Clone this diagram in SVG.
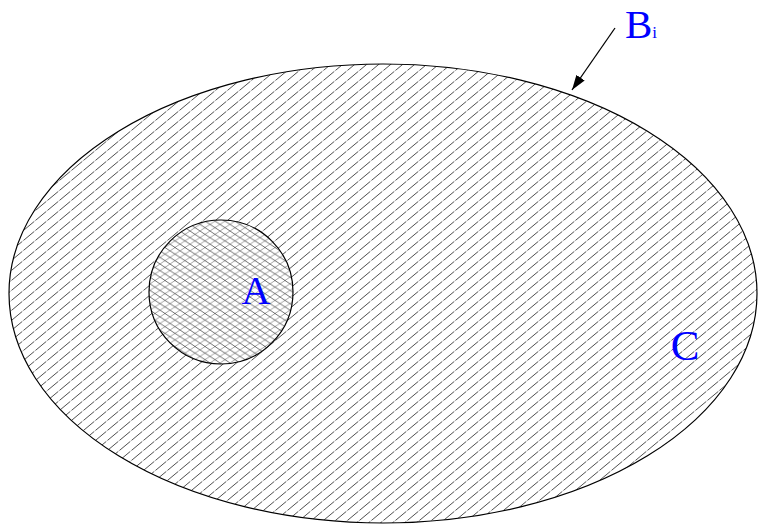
<svg xmlns="http://www.w3.org/2000/svg" width="758" height="527" viewBox="0 0 758 527">
<style>
.lbl{font-family:"Liberation Serif","Times New Roman",serif;fill:#0000ff}
.outline{stroke:#000;stroke-width:1.2}
</style>
<defs>
<pattern id="hatch" patternUnits="userSpaceOnUse" width="12" height="10">
<line x1="-1.2" y1="11" x2="13.2" y2="-1" stroke="#3a3a3a" stroke-width="0.9" stroke-dasharray="15 1.5"/>
<line x1="-1.2" y1="1" x2="1.2" y2="-1" stroke="#3a3a3a" stroke-width="0.9"/>
<line x1="10.8" y1="11" x2="13.2" y2="9" stroke="#3a3a3a" stroke-width="0.9"/>
</pattern>
<pattern id="cross" patternUnits="userSpaceOnUse" width="10" height="6.6">
<rect width="10" height="6.6" fill="#fff"/>
<line x1="0" y1="6.6" x2="10" y2="0" stroke="#8a8a8a" stroke-width="0.8"/>
<line x1="0" y1="0" x2="10" y2="6.6" stroke="#111" stroke-width="0.6"/>
</pattern>
<marker id="arr" markerWidth="15" markerHeight="10" refX="15" refY="5" orient="auto" markerUnits="userSpaceOnUse">
<path d="M0,0 L15,5 L0,10 Z" fill="#000"/>
</marker>
</defs>
<g id="B">
<ellipse cx="383" cy="293.5" rx="374" ry="229.5" class="outline" style="fill:url(#hatch)"/>
</g>
<g id="A">
<circle cx="221" cy="292" r="72" class="outline" style="fill:url(#cross)"/>
<text x="256" y="304" class="lbl" font-size="40" text-anchor="middle">A</text>
</g>
<g id="C">
<text x="685" y="360" class="lbl" font-size="43" text-anchor="middle">C</text>
</g>
<g id="connectors">
<line x1="615" y1="28" x2="572" y2="90" stroke="#000" stroke-width="1.3" marker-end="url(#arr)"/>
</g>
<g id="Bi">
<text x="625" y="38" class="lbl" font-size="41">B<tspan font-size="17">i</tspan></text>
</g>
</svg>
